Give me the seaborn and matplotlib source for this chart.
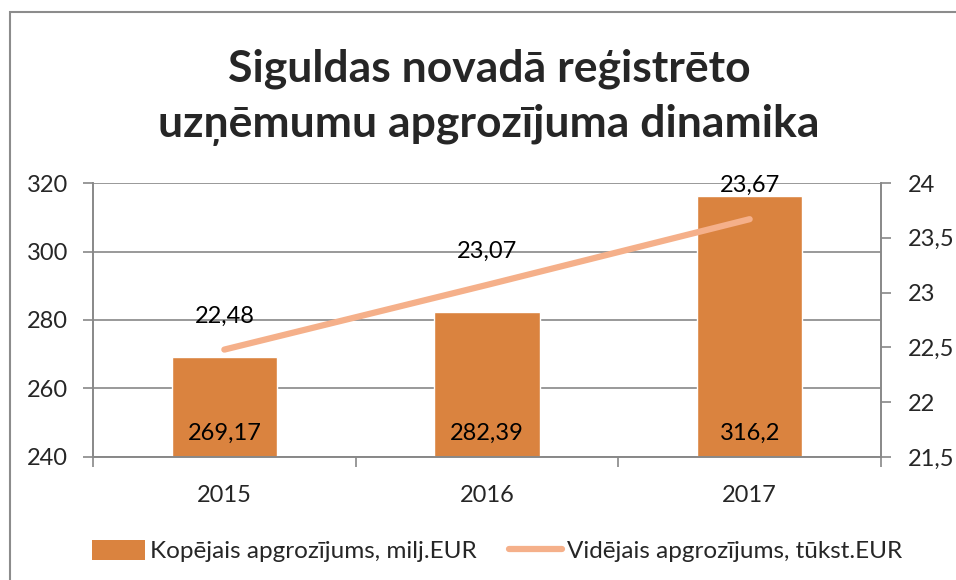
import matplotlib
matplotlib.use("Agg")
import matplotlib.pyplot as plt
import seaborn as sns
import numpy as np
import pandas as pd
from matplotlib.patches import Rectangle
from matplotlib.lines import Line2D
from matplotlib.patches import Patch

years = ["2015", "2016", "2017"]
total_turnover = [269.17, 282.39, 316.2]
avg_turnover = [22.48, 23.07, 23.67]
total_labels = ["269,17", "282,39", "316,2"]
avg_labels = ["22,48", "23,07", "23,67"]
left_ticks = [240, 260, 280, 300, 320]
right_ticks = [21.5, 22, 22.5, 23, 23.5, 24]
right_tick_labels = ["21,5", "22", "22,5", "23", "23,5", "24"]
title = "Siguldas novadā reģistrēto\nuzņēmumu apgrozījuma dinamika"
bar_name = "Kopējais apgrozījums, milj.EUR"
line_name = "Vidējais apgrozījums, tūkst.EUR"

BAR_C = "#DA833F"
LINE_C = "#F5B08A"
GRID_C = "#888888"
FS = 17

sns.set_theme(style="white")
plt.rcParams["font.family"] = ["Lato", "DejaVu Sans"]

fig = plt.figure(figsize=(9.56, 5.8), dpi=100)
ax = fig.add_axes([93/956, 1-457/580, (881-93)/956, (457-183)/580])

df = pd.DataFrame({"year": years, "total": total_turnover})
sns.barplot(data=df, x="year", y="total", color=BAR_C, width=0.4, ax=ax,
            saturation=1, zorder=2)
ax.set_ylim(left_ticks[0], left_ticks[-1])
ax.set_xlim(-0.5, len(years) - 0.5)
ax.set_yticks(left_ticks)
ax.set_yticklabels([str(t) for t in left_ticks], fontsize=FS)
ax.yaxis.grid(True, color=GRID_C, linewidth=1.2, zorder=0)
ax.set_axisbelow(True)
ax.set_xlabel("")
ax.set_ylabel("")
ax.tick_params(axis="y", which="major", length=7, width=1.2, color=GRID_C,
               direction="out", left=True, pad=11)
ax.set_xticks(np.arange(len(years)))
ax.set_xticklabels(years, fontsize=FS)
ax.set_xticks(np.arange(len(years) + 1) - 0.5, minor=True)
ax.tick_params(axis="x", which="major", length=0, pad=20)
ax.tick_params(axis="x", which="minor", length=7, width=1.2, color=GRID_C,
               direction="out", bottom=True)
for s in ["left", "right", "bottom"]:
    ax.spines[s].set_color(GRID_C)
    ax.spines[s].set_linewidth(1.2)
ax.spines["top"].set_visible(False)

for i, lab in enumerate(total_labels):
    ax.text(i, 247, lab, ha="center", va="center", fontsize=FS, color="black", zorder=5)

ax2 = ax.twinx()
xs = np.arange(len(years))
sns.lineplot(x=xs, y=avg_turnover, ax=ax2, color=LINE_C, linewidth=4.5,
             solid_capstyle="round", zorder=4)
ax2.set_ylim(right_ticks[0], right_ticks[-1])
ax2.set_yticks(right_ticks)
ax2.set_yticklabels(right_tick_labels, fontsize=FS)
ax2.tick_params(axis="y", length=7, width=1.2, color=GRID_C, direction="out",
                right=True, pad=12)
ax2.set_xlim(-0.5, len(years) - 0.5)
for s in ["left", "right", "bottom"]:
    ax2.spines[s].set_color(GRID_C)
    ax2.spines[s].set_linewidth(1.2)
ax2.spines["top"].set_visible(False)
ax2.grid(False)
for i, (v, lab) in enumerate(zip(avg_turnover, avg_labels)):
    ax2.annotate(lab, (i, v), xytext=(0, 24), textcoords="offset points",
                 ha="center", va="center", fontsize=FS, color="black")

fig.text(489/956, 1-97/580, title, ha="center", va="center", fontsize=32,
         fontweight="bold", linespacing=1.45)

handles = [Patch(facecolor=BAR_C, edgecolor="none"),
           Line2D([0], [0], color=LINE_C, linewidth=4.5, solid_capstyle="round")]
fig.legend(handles, [bar_name, line_name], loc="center", ncol=2,
           bbox_to_anchor=(497/956, 1-551/580), frameon=False, fontsize=17.5,
           handlelength=2.2, handleheight=0.9, handletextpad=0.2, columnspacing=1.3,
           borderpad=0, borderaxespad=0)

fig.add_artist(Rectangle((10/956, -0.1), 1.2, 1.1 - 12/580,
                         transform=fig.transFigure, fill=False,
                         edgecolor="#8C8C8C", linewidth=1.5))

fig.savefig("out.png", dpi=100)
